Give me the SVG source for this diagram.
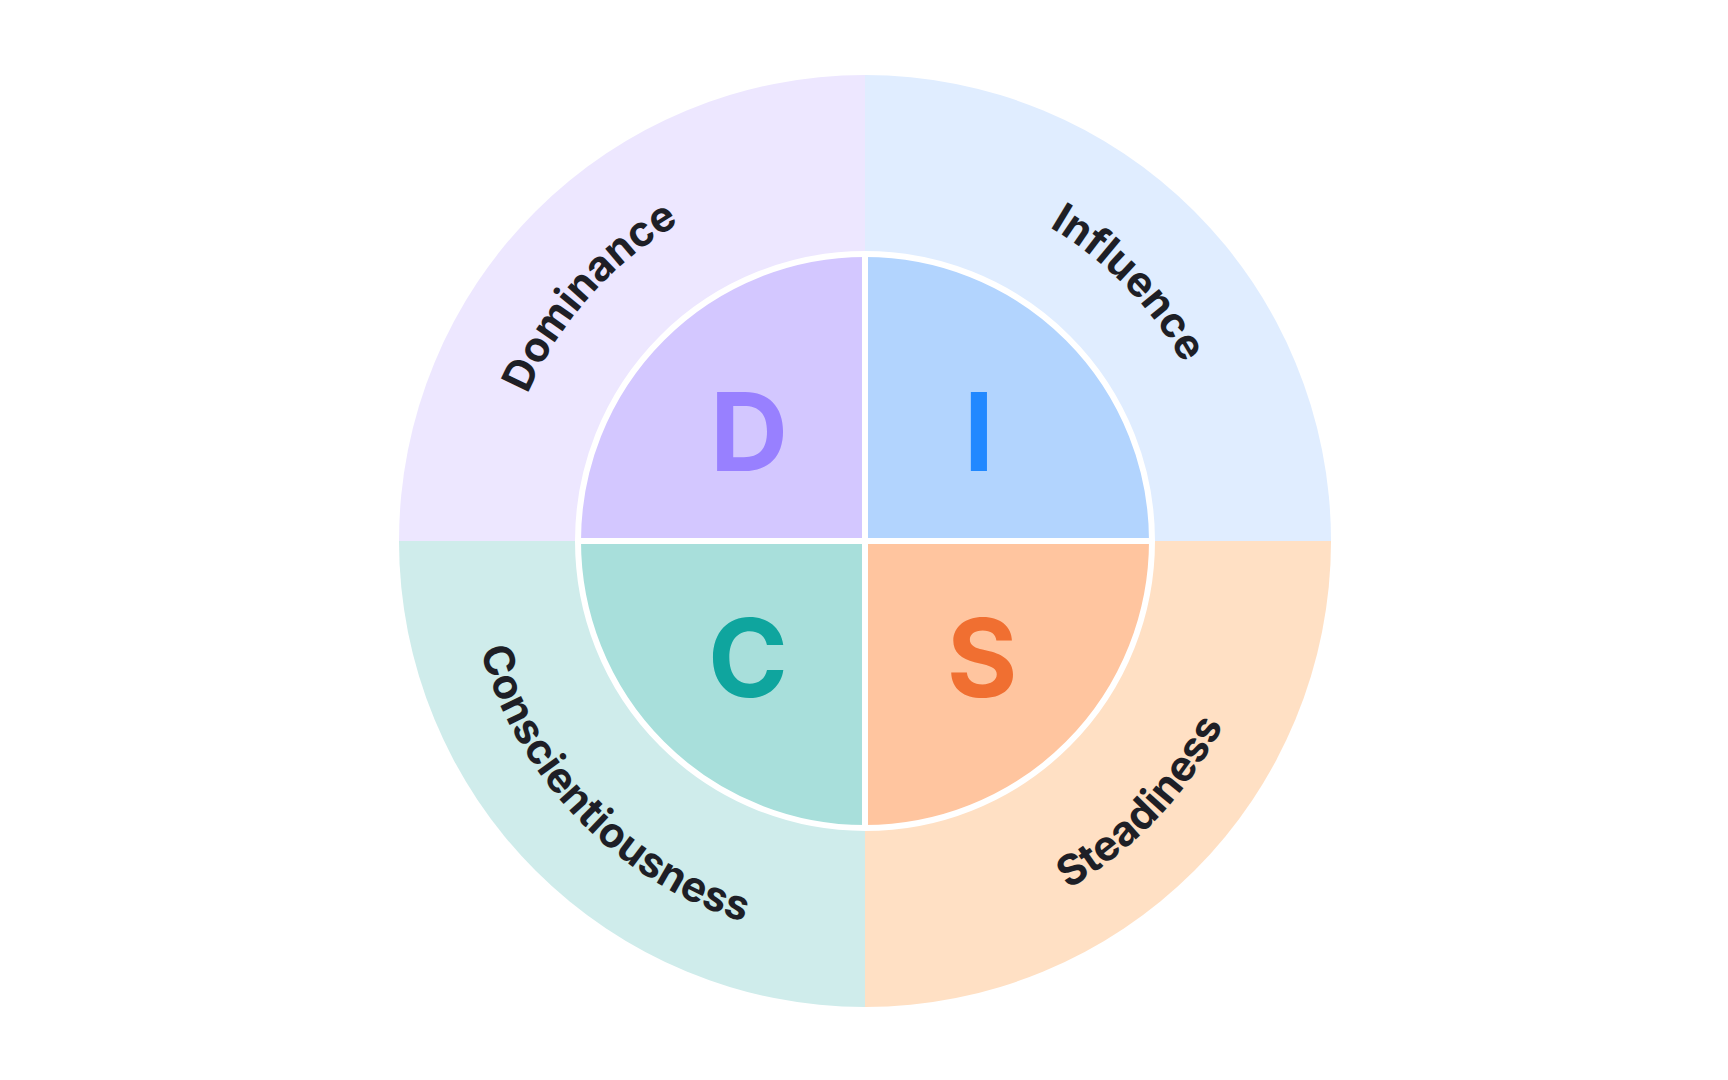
<svg xmlns="http://www.w3.org/2000/svg" xmlns:xlink="http://www.w3.org/1999/xlink" width="1728" height="1080" viewBox="0 0 1728 1080">
<style>
.lbl{font-family:Inter,"Noto Sans","Liberation Sans",sans-serif;font-weight:700;font-size:42px;fill:#1E1F26;}
.big{font-family:Inter,"Noto Sans","Liberation Sans",sans-serif;font-weight:700;font-size:108px;text-anchor:middle;}
.div{stroke:#FFFFFF;stroke-width:6;fill:none;}
</style>
<defs>
<path id="pD" d="M 497 541 A 368 368 0 0 1 865 173"/>
<path id="pI" d="M 865 177 A 364 364 0 0 1 1229 541"/>
<path id="pC" d="M 465 541 A 400 400 0 0 0 865 941"/>
<path id="pS" d="M 865 944 A 403 403 0 0 0 1268 541"/>
</defs>
<rect width="1728" height="1080" fill="#FFFFFF"/>
<g id="outer-ring">
<path d="M 865 541 L 399 541 A 466 466 0 0 1 865 75 Z" fill="#EDE7FF"/>
<path d="M 865 541 L 865 75 A 466 466 0 0 1 1331 541 Z" fill="#E0EDFF"/>
<path d="M 865 541 L 1331 541 A 466 466 0 0 1 865 1007 Z" fill="#FFE0C4"/>
<path d="M 865 541 L 865 1007 A 466 466 0 0 1 399 541 Z" fill="#CFECEB"/>
</g>
<g id="node-D">
<path d="M 865 541 L 578 541 A 287 287 0 0 1 865 254 Z" fill="#D3C7FF"/>
<text class="big" x="749" y="471" fill="#9880FF">D</text>
<text class="lbl"><textPath xlink:href="#pD" href="#pD" startOffset="46.2%" text-anchor="middle">Dominance</textPath></text>
</g>
<g id="node-I">
<path d="M 865 541 L 865 254 A 287 287 0 0 1 1152 541 Z" fill="#B2D4FE"/>
<text class="big" x="979" y="471" fill="#2188FF">I</text>
<text class="lbl"><textPath xlink:href="#pI" href="#pI" startOffset="50.7%" text-anchor="middle">Influence</textPath></text>
</g>
<g id="node-S">
<path d="M 865 541 L 1152 541 A 287 287 0 0 1 865 828 Z" fill="#FFC59F"/>
<text class="big" x="982" y="697" fill="#F06F31">S</text>
<text class="lbl"><textPath xlink:href="#pS" href="#pS" startOffset="51.7%" text-anchor="middle">Steadiness</textPath></text>
</g>
<g id="node-C">
<path d="M 865 541 L 865 828 A 287 287 0 0 1 578 541 Z" fill="#A8DFDB"/>
<text class="big" x="748" y="697" fill="#0FA59E">C</text>
<text class="lbl"><textPath xlink:href="#pC" href="#pC" startOffset="49%" text-anchor="middle">Conscientiousness</textPath></text>
</g>
<g id="connectors">
<circle cx="865" cy="541" r="287" class="div" stroke-width="5"/>
<line x1="865" y1="252" x2="865" y2="830" class="div"/>
<line x1="576" y1="541" x2="1154" y2="541" class="div"/>
</g>
</svg>
